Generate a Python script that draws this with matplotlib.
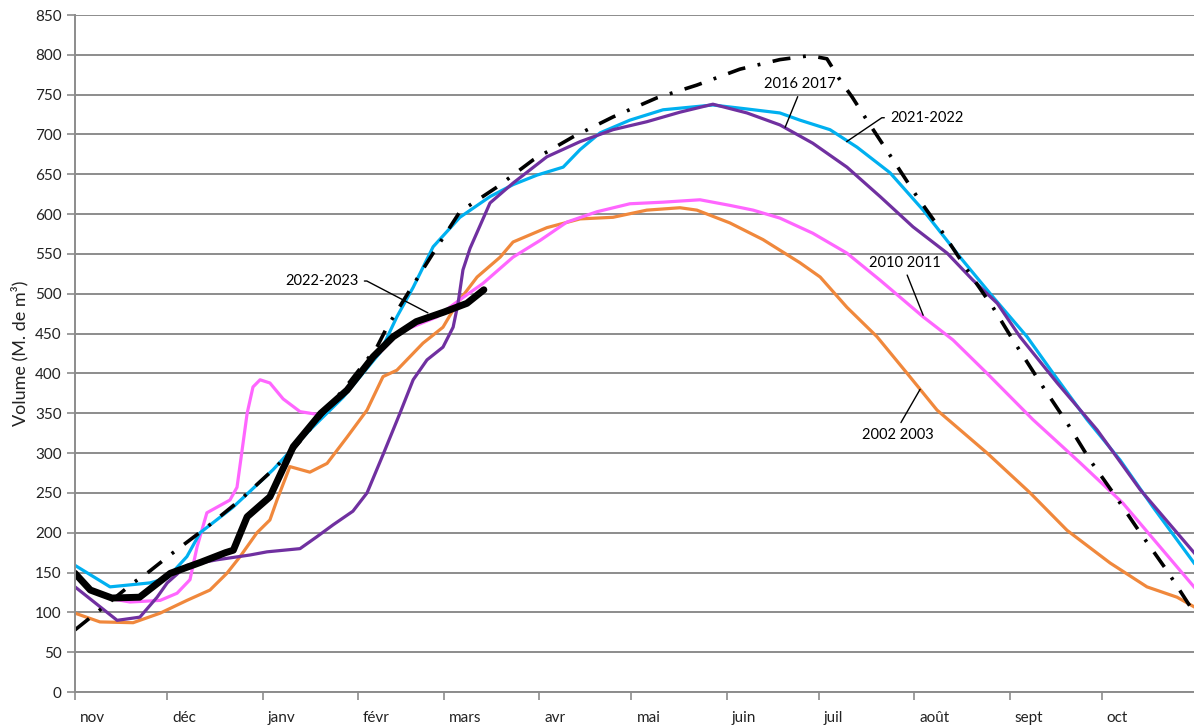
import matplotlib.pyplot as plt
import matplotlib.transforms as mtransforms

# jours depuis le 1er novembre
mois = ["nov", "déc", "janv", "févr", "mars", "avr", "mai", "juin", "juil", "août", "sept", "oct"]
debut_mois = [0, 30, 61, 92, 120, 151, 181, 212, 242, 273, 304, 334]

j_2002 = [0, 8.1, 18.9, 27.7, 36.4, 43.9, 49.4, 53.7, 59.2, 63.4, 65.7, 69.9, 76.4, 82, 88.5, 95, 100.2,
          104.7, 113.2, 119.7, 124.3, 130.8, 138.3, 142.5, 153.5, 164.3, 175, 186, 196.8, 202.3, 213,
          223.8, 235.8, 242.4, 251.1, 260.9, 270.7, 280.4, 296.7, 310.7, 322.7, 336.7, 348.7, 358.5, 364]
v_2002 = [99, 88, 87, 99, 115, 128, 149, 170, 200, 216, 241, 283, 276, 287, 320, 354, 396,
          404, 438, 458, 488, 521, 546, 565, 583, 594, 596, 605, 608, 605, 589,
          568, 539, 521, 483, 446, 400, 354, 300, 250, 203, 162, 132, 119, 107]

j_2010 = [0, 5, 12, 17.9, 27.7, 33.2, 37.4, 39.7, 42.9, 50.4, 52.7, 56, 57.9, 60.2, 63.4, 67.7, 73.2, 79.7,
          86.2, 96.3, 105.7, 117.8, 124.3, 132.7, 142.5, 151.3, 160, 169.8, 180.5, 191.3, 203.3, 213,
          220.6, 229.3, 240, 251.1, 261.9, 275.9, 285.6, 296.7, 311.6, 326.9, 340.9, 353, 364]
v_2010 = [149, 128, 117, 113, 115, 124, 141, 182, 225, 241, 257, 350, 383, 392, 388, 368, 352, 348,
          372, 415, 452, 471, 490, 513, 546, 567, 590, 603, 613, 615, 618, 611,
          605, 595, 576, 551, 517, 471, 442, 400, 342, 288, 237, 182, 132]

j_2016 = [0, 13.7, 15.6, 21.1, 26.7, 30, 36.4, 46.2, 56.9, 62.5, 73.2, 78.7, 84, 90.4, 95, 100.2, 105.7,
          110, 114.5, 119.7, 123, 124.6, 126.2, 128.5, 135, 142.5, 153.5, 164.3, 175, 186, 196.8, 207.5,
          218.6, 229.3, 240, 251.1, 261.9, 272.6, 283.7, 292.1, 300, 307.4, 319.5, 332.5, 346.5, 364]
v_2016 = [132, 90, 91, 94, 119, 137, 159, 166, 172, 176, 180, 195, 210, 227, 250, 298, 350,
          392, 417, 433, 458, 488, 530, 557, 614, 639, 672, 691, 706, 716, 728, 738,
          727, 712, 689, 659, 622, 584, 551, 517, 488, 446, 388, 329, 254, 175]

j_2021 = [0, 11.4, 24.4, 30, 36.4, 40.7, 51.4, 64.4, 76.4, 87.2, 99.2, 104.7, 110, 116.5, 125.2, 135,
          142.5, 150.3, 158.8, 164.3, 170.8, 180.5, 191.3, 207.5, 218.6, 229.3, 235.8, 245.6, 254.4,
          265.1, 275.9, 287.9, 298.6, 309.7, 318.2, 329.2, 340, 350.7, 364]
v_2021 = [159, 132, 137, 143, 170, 200, 232, 279, 329, 370, 426, 471, 508, 559, 596, 622,
          637, 649, 659, 681, 702, 718, 731, 737, 732, 727, 718, 706, 684,
          652, 605, 546, 496, 446, 400, 342, 291, 232, 162]

j_2022 = [0, 5, 12, 21, 31, 41, 49, 51.5, 56, 63.4, 71, 80, 88.5, 97, 103.5, 111, 120, 127.5, 133]
v_2022 = [149, 128, 118, 119, 149, 163, 175, 178, 220, 245, 308, 350, 379, 421, 446, 465, 477, 488, 505]

# courbe en tirets-points (non légendée)
j_ref = [0, 8.1, 18.9, 23.4, 30.9, 42.9, 53.7, 64.4, 70.9, 79.7, 89.5, 98.2, 101.5, 109, 116.5, 125.2,
         137.3, 149, 162, 175, 189.3, 202.3, 216.3, 229.3, 239.1, 244.6, 248.9, 252.8, 257.6, 265.1,
         273.9, 282.4, 290.2, 298.6, 305.1, 314.9, 322.7, 330.2, 337.7, 346.5, 355.1, 364]
v_ref = [78, 103, 137, 149, 172, 207, 241, 279, 304, 345, 390, 433, 458, 505, 551, 603,
         634, 668, 697, 722, 746, 762, 782, 794, 799, 795, 768, 747, 718, 674,
         622, 576, 530, 483, 442, 383, 338, 291, 250, 200, 153, 100]

plt.rcParams['font.family'] = ['Lato', 'DejaVu Sans']

fig = plt.figure(figsize=(11.94, 7.26), dpi=100)
ax = fig.add_axes([75 / 1194, 34 / 726, 1 - 75 / 1194, 677 / 726])

gris = "#8c8c8c"
ax.plot(j_2002, v_2002, color="#f0883c", lw=2.3, solid_joinstyle="round")
ax.plot(j_2010, v_2010, color="#ff66ff", lw=2.3, solid_joinstyle="round")
ax.plot(j_2021, v_2021, color="#00b0f0", lw=2.3, solid_joinstyle="round")
ax.plot(j_2016, v_2016, color="#7030a0", lw=2.3, solid_joinstyle="round")
ax.plot(j_ref, v_ref, color="black", lw=2.6, linestyle=(0, (5, 3.5, 0.8, 3.5)))
ax.plot(j_2022, v_2022, color="black", lw=5, solid_capstyle="round", solid_joinstyle="round")

ax.set_xlim(0, 364)
ax.set_ylim(0, 850)
ax.set_yticks(range(0, 851, 50))
ax.yaxis.grid(True, color=gris, lw=1.4)
ax.set_axisbelow(True)
ax.set_xticks(debut_mois, mois)
ax.tick_params(axis="both", colors=gris, labelcolor="#222222", labelsize=11, width=1.2, length=6)
ax.tick_params(axis="x", pad=8)
decal = mtransforms.ScaledTranslation(5 / 100, 0, fig.dpi_scale_trans)
for lab in ax.get_xticklabels():
    lab.set_ha("left")
    lab.set_transform(lab.get_transform() + decal)

for s in ["top", "right"]:
    ax.spines[s].set_visible(False)
for s in ["left", "bottom"]:
    ax.spines[s].set_color(gris)
    ax.spines[s].set_linewidth(1.4)

ax.set_ylabel("Volume (M. de m³)", fontsize=13, color="#222222", labelpad=5)

fl = dict(arrowstyle="-", color="black", lw=1, shrinkA=2, shrinkB=0)
ax.annotate("2022-2023", xy=(114.8, 476), xytext=(80.4, 516), fontsize=10.5, ha="center", va="center",
            arrowprops=dict(fl, connectionstyle="arc,angleA=0,armA=8,angleB=0,armB=0,rad=0", relpos=(1, 0.5)))
ax.annotate("2016 2017", xy=(231, 709), xytext=(235.8, 763), fontsize=10.5, ha="center", va="center",
            arrowprops=dict(fl, relpos=(0.5, 0)))
ax.annotate("2021-2022", xy=(251, 691), xytext=(277, 721), fontsize=10.5, ha="center", va="center",
            arrowprops=dict(fl, connectionstyle="arc,angleA=180,armA=8,angleB=0,armB=0,rad=0", relpos=(0, 0.5)))
ax.annotate("2010 2011", xy=(275.9, 473), xytext=(270, 539), fontsize=10.5, ha="center", va="center",
            arrowprops=dict(fl, relpos=(0.5, 0)))
ax.annotate("2002 2003", xy=(274.9, 380), xytext=(267.7, 323), fontsize=10.5, ha="center", va="center",
            arrowprops=dict(fl, relpos=(0.5, 1)))

fig.savefig("out.png", dpi=100)
